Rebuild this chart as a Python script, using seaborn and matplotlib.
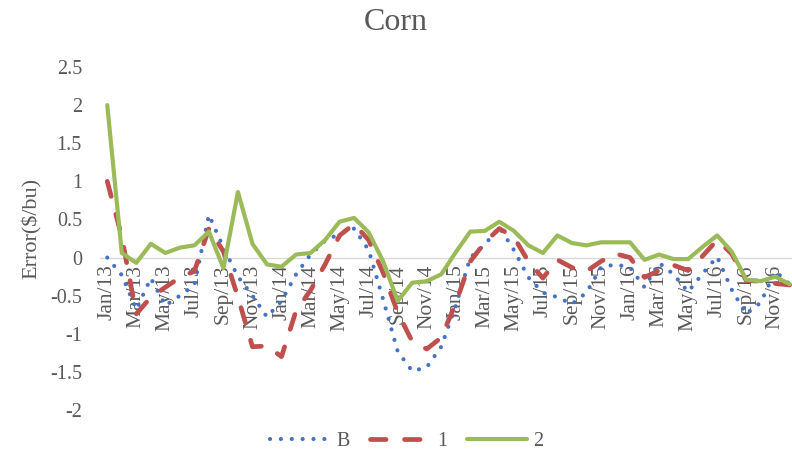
import matplotlib
matplotlib.use("Agg")
import matplotlib.pyplot as plt
import seaborn as sns
import pandas as pd
import numpy as np

months = ["Jan/13", "Feb/13", "Mar/13", "Apr/13", "May/13", "Jun/13", "Jul/13", "Aug/13",
          "Sep/13", "Oct/13", "Nov/13", "Dec/13",
          "Jan/14", "Feb/14", "Mar/14", "Apr/14", "May/14", "Jun/14", "Jul/14", "Aug/14",
          "Sep/14", "Oct/14", "Nov/14", "Dec/14",
          "Jan/15", "Feb/15", "Mar/15", "Apr/15", "May/15", "Jun/15", "Jul/15", "Aug/15",
          "Sep/15", "Oct/15", "Nov/15", "Dec/15",
          "Jan/16", "Feb/16", "Mar/16", "Apr/16", "May/16", "Jun/16", "Jul/16", "Aug/16",
          "Sep/16", "Oct/16", "Nov/16", "Dec/16"]

series_B = [0.00, -0.23, -0.68, -0.27, -0.63, -0.50, -0.36, 0.56, 0.13, -0.25, -0.50, -0.78,
            -0.57, -0.22, 0.04, 0.22, 0.31, 0.38, 0.10, -0.55, -1.23, -1.49, -1.44, -1.17,
            -0.63, 0.00, 0.17, 0.40, 0.10, -0.26, -0.46, -0.52, -0.61, -0.46, -0.13, -0.09,
            -0.13, -0.39, -0.07, -0.22, -0.45, -0.21, 0.01, -0.42, -0.74, -0.59, -0.18, -0.35]

series_1 = [1.00, 0.27, -0.74, -0.52, -0.39, -0.26, -0.18, 0.38, 0.08, -0.52, -1.17, -1.16,
            -1.30, -0.70, -0.43, -0.09, 0.29, 0.44, 0.23, -0.20, -0.72, -1.10, -1.20, -1.05,
            -0.60, -0.05, 0.20, 0.38, 0.27, -0.05, -0.27, -0.03, -0.13, -0.18, -0.05, 0.05,
            0.00, -0.26, -0.17, -0.10, -0.17, 0.02, 0.23, 0.05, -0.30, -0.31, -0.34, -0.36]

series_2 = [2.00, 0.06, -0.07, 0.18, 0.06, 0.13, 0.16, 0.34, -0.14, 0.86, 0.18, -0.09,
            -0.12, 0.04, 0.06, 0.23, 0.47, 0.52, 0.33, -0.05, -0.57, -0.33, -0.31, -0.22,
            0.07, 0.34, 0.35, 0.47, 0.35, 0.16, 0.06, 0.29, 0.19, 0.16, 0.20, 0.20,
            0.20, -0.03, 0.04, -0.02, -0.02, 0.14, 0.29, 0.08, -0.29, -0.31, -0.25, -0.35]

tick_labels = ["Jan/13", "Mar/13", "May/13", "Jul/13", "Sep/13", "Nov/13",
               "Jan/14", "Mar/14", "May/14", "Jul/14", "Sep/14", "Nov/14",
               "Jan/15", "Mar/15", "May/15", "Jul/15", "Sep/15", "Nov/15",
               "Jan/16", "Mar/16", "May/16", "Jul/16", "Sep/16", "Nov/16"]
y_ticks = [-2, -1.5, -1, -0.5, 0, 0.5, 1, 1.5, 2, 2.5]

sns.set_theme(style="white")
plt.rcParams["font.family"] = ["Liberation Serif", "DejaVu Serif"]
TXT = "#595959"

df = pd.DataFrame({"month": months, "B": series_B, "1": series_1, "2": series_2})
df["pos"] = np.arange(len(months))

fig = plt.figure(figsize=(7.92, 4.58), dpi=100)
ax = fig.add_axes([100 / 792, 1 - 410 / 458, 697 / 792, 343 / 458])

sns.lineplot(data=df, x="pos", y="B", ax=ax, color="#4472C4", linewidth=3.0,
             dashes=(0.01, 2.6), dash_capstyle="round", label="B", sort=False)
sns.lineplot(data=df, x="pos", y="1", ax=ax, color="#C0504D", linewidth=3.4,
             dashes=(3.3, 3.9), dash_capstyle="round", label="1", sort=False)
sns.lineplot(data=df, x="pos", y="2", ax=ax, color="#9BBB59", linewidth=3.0,
             solid_capstyle="round", solid_joinstyle="round", label="2", sort=False)

ax.set_xlim(-0.5, len(months) - 0.5)
ax.set_ylim(-2, 2.5)
tick_pos = [months.index(t) for t in tick_labels]
ax.set_xticks(tick_pos)
ax.set_xticklabels(tick_labels)
ax.set_yticks(y_ticks)
ax.set_yticklabels([f"{v:g}" for v in y_ticks])
ax.tick_params(axis="both", length=0, labelcolor=TXT)
ax.tick_params(axis="y", pad=13, labelsize=14.5)
ax.tick_params(axis="x", pad=5, labelrotation=90, labelsize=15.5)
ax.set_xlabel("")
ax.set_ylabel("")

for s in ["top", "right", "left"]:
    ax.spines[s].set_visible(False)
ax.spines["bottom"].set_position(("data", 0))
ax.spines["bottom"].set_color("#D9D9D9")
ax.spines["bottom"].set_linewidth(1.0)
ax.spines["bottom"].set_zorder(0.5)
ax.grid(False)
ax.patch.set_alpha(0)

fig.text(396 / 792, 1 - 22 / 458, "Corn", ha="center", va="center", fontsize=23, color=TXT)
fig.text(32 / 792, 1 - 228 / 458, "Error($/bu)", ha="center", va="center",
         rotation=90, fontsize=16, color=TXT)

handles, labels = ax.get_legend_handles_labels()
if ax.get_legend() is not None:
    ax.get_legend().remove()
leg = fig.legend(handles, labels, loc="center", bbox_to_anchor=(407 / 792, 1 - 441 / 458),
                 ncol=3, frameon=False, fontsize=14.5, handlelength=3.0,
                 handletextpad=0.3, columnspacing=1.0)
for t in leg.get_texts():
    t.set_color(TXT)

fig.savefig("out.png", dpi=100)
